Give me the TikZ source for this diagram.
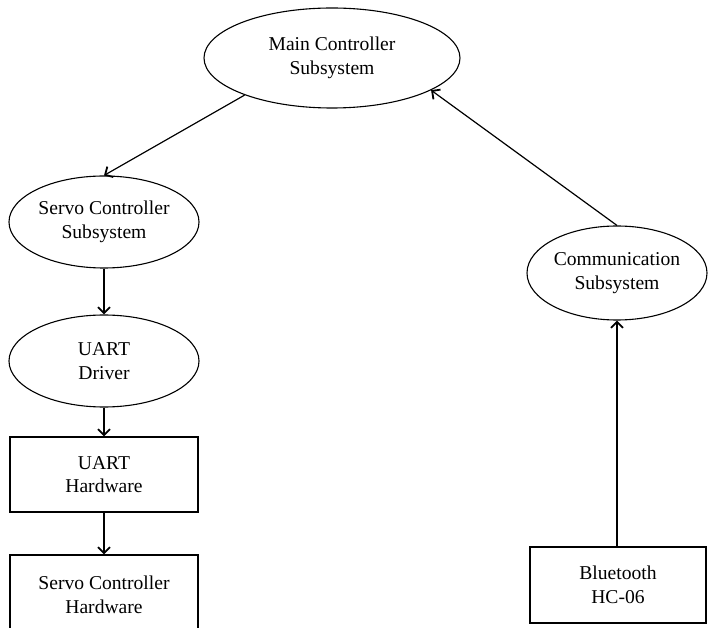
\documentclass[tikz,border=0pt]{standalone}
\usepackage{fontspec}
\setmainfont{Liberation Serif}
\usetikzlibrary{shapes.geometric,arrows.meta}
\begin{document}
\begin{tikzpicture}[x=1pt,y=-1pt,
  every node/.style={font=\fontsize{19.6}{23.5}\selectfont, align=center, text=black},
  oval/.style={draw, ellipse, line width=1.1pt, inner sep=0pt},
  blockbox/.style={draw, rectangle, line width=1.1pt, inner sep=0pt},
  link/.style={line width=1.2pt, -{Straight Barb[length=6pt,width=12pt,line width=1.8pt]}}]
\useasboundingbox (0,0) rectangle (710,628);
% ellipses
\node[oval, minimum width=256, minimum height=100] (main) at (332,58) {Main Controller\\Subsystem};
\node[oval, minimum width=190, minimum height=92] (servo) at (104,222) {Servo Controller\\Subsystem};
\node[oval, minimum width=190, minimum height=92] (driver) at (104,361) {UART\\Driver};
\node[oval, minimum width=180, minimum height=94] (comm) at (617,273) {Communication\\Subsystem};
% boxes
\node[blockbox, minimum width=188, minimum height=75] (uarthw) at (104,474.5) {UART\\Hardware};
\node[blockbox, minimum width=188, minimum height=80] (servohw) at (104,595) {Servo Controller\\Hardware};
\node[blockbox, minimum width=176, minimum height=76] (bt) at (618,585) {Bluetooth\\HC-06};
% connectors
\draw[link] (main.203) -- (servo.north);
\draw[link] (servo.south) -- (driver.north);
\draw[link] (driver.south) -- (uarthw.north);
\draw[link] (uarthw.south) -- (servohw.north);
\draw[link] (bt.north -| comm.south) -- (comm.south);
\draw[link] (comm.north) -- (main.342);
\end{tikzpicture}
\end{document}
